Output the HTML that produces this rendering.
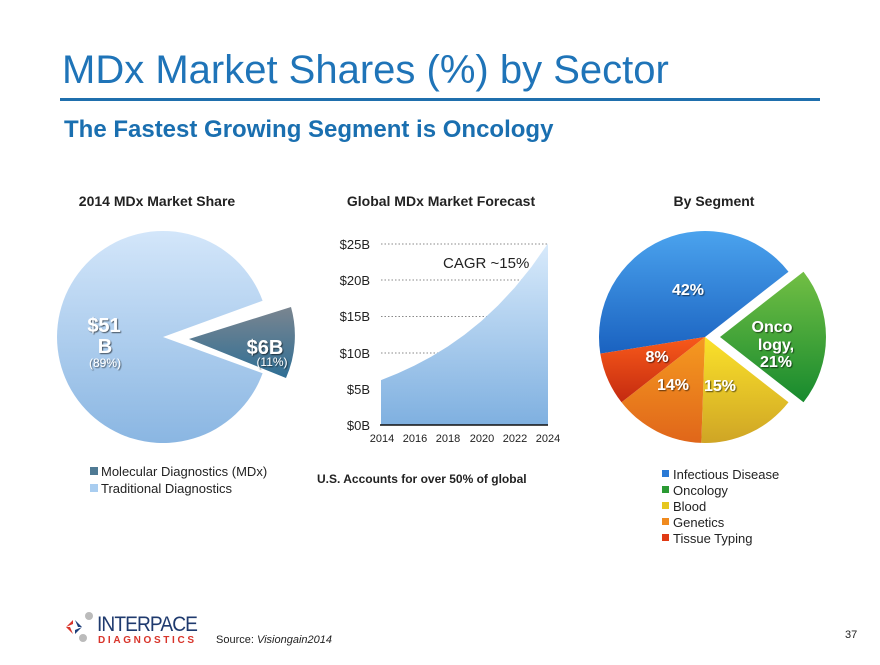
<!DOCTYPE html>
<html><head><meta charset="utf-8"><style>
body{margin:0;background:#fff;}
svg text{font-family:"Liberation Sans",Arial,sans-serif;}
</style></head><body>
<svg width="880" height="660" viewBox="0 0 880 660" xmlns="http://www.w3.org/2000/svg">
<defs>
<linearGradient id="lb" x1="0" y1="0" x2="0" y2="1"><stop offset="0" stop-color="#d3e6fa"/><stop offset="1" stop-color="#8ab6e2"/></linearGradient>
<linearGradient id="db" x1="0" y1="0" x2="0" y2="1"><stop offset="0" stop-color="#7a8590"/><stop offset="1" stop-color="#2f6f95"/></linearGradient>
<linearGradient id="ar" x1="0" y1="0" x2="0" y2="1"><stop offset="0" stop-color="#d8eafb"/><stop offset="1" stop-color="#7fb0e0"/></linearGradient>
<linearGradient id="bl" x1="0" y1="0" x2="0" y2="1"><stop offset="0" stop-color="#4ba3ee"/><stop offset="1" stop-color="#1a62c0"/></linearGradient>
<linearGradient id="gr" x1="0" y1="0" x2="0" y2="1"><stop offset="0" stop-color="#72bf44"/><stop offset="1" stop-color="#178a2e"/></linearGradient>
<linearGradient id="ye" x1="0" y1="0" x2="0" y2="1"><stop offset="0" stop-color="#fbe22a"/><stop offset="1" stop-color="#cfa525"/></linearGradient>
<linearGradient id="or" x1="0" y1="0" x2="0" y2="1"><stop offset="0" stop-color="#f59a20"/><stop offset="1" stop-color="#e0661a"/></linearGradient>
<linearGradient id="rd" x1="0" y1="0" x2="0" y2="1"><stop offset="0" stop-color="#f85a1a"/><stop offset="1" stop-color="#c42a10"/></linearGradient>
<filter id="sh"><feDropShadow dx="1" dy="1" stdDeviation="0.6" flood-color="#000" flood-opacity="0.6"/></filter>
</defs>
<text x="62" y="83" font-size="40" fill="#1f74b8">MDx Market Shares (%) by Sector</text>
<rect x="60" y="98" width="760" height="3" fill="#1f6fad"/>
<text x="64" y="137" font-size="24" font-weight="bold" fill="#1a6fb0">The Fastest Growing Segment is Oncology</text>

<text x="157" y="206" font-size="14" font-weight="bold" text-anchor="middle" fill="#222">2014 MDx Market Share</text>
<text x="441" y="206" font-size="14" font-weight="bold" text-anchor="middle" fill="#222">Global MDx Market Forecast</text>
<text x="714" y="206" font-size="14" font-weight="bold" text-anchor="middle" fill="#222">By Segment</text>

<!-- left pie -->
<path d="M163,337 L262.6,373.3 A106,106 0 1,1 262.6,300.7 Z" fill="url(#lb)"/>
<path d="M189,339 L291,307 A106,106 0 0,1 286,378 Z" fill="url(#db)"/>
<g fill="#fff" font-weight="bold" text-anchor="middle" filter="url(#sh)">
<text x="104" y="332" font-size="20">$51</text>
<text x="105" y="353" font-size="20">B</text>
<text x="105" y="367" font-size="12" font-weight="normal">(89%)</text>
<text x="265" y="354" font-size="20">$6B</text>
<text x="272" y="366" font-size="12" font-weight="normal">(11%)</text>
</g>
<rect x="90" y="467" width="8" height="8" fill="#4f7a94"/>
<text x="101" y="476" font-size="13" fill="#222">Molecular Diagnostics (MDx)</text>
<rect x="90" y="484" width="8" height="8" fill="#a9cdf0"/>
<text x="101" y="493" font-size="13" fill="#222">Traditional Diagnostics</text>

<!-- area chart -->
<g stroke="#888" stroke-width="1" stroke-dasharray="1.5,2">
<line x1="381" y1="244" x2="548" y2="244"/><line x1="381" y1="280" x2="548" y2="280"/>
<line x1="381" y1="316.5" x2="548" y2="316.5"/><line x1="381" y1="353" x2="548" y2="353"/>
<line x1="381" y1="389" x2="548" y2="389"/>
</g>
<path d="M381,425 L381,380.1 L397.7,373.4 L414.4,365.6 L431.1,356.7 L447.8,346.5 L464.5,334.7 L481.2,321.2 L497.9,305.6 L514.6,287.7 L531.3,267.1 L548,243.4 L548,425 Z" fill="url(#ar)"/>
<line x1="380" y1="425" x2="548" y2="425" stroke="#111" stroke-width="1.5"/>
<g font-size="13" fill="#222" text-anchor="end">
<text x="370" y="249">$25B</text><text x="370" y="285">$20B</text><text x="370" y="321">$15B</text>
<text x="370" y="358">$10B</text><text x="370" y="394">$5B</text><text x="370" y="430">$0B</text>
</g>
<g font-size="11" fill="#222" text-anchor="middle">
<text x="382" y="442">2014</text><text x="415" y="442">2016</text><text x="448" y="442">2018</text>
<text x="482" y="442">2020</text><text x="515" y="442">2022</text><text x="548" y="442">2024</text>
</g>
<text x="443" y="268" font-size="15" fill="#222">CAGR ~15%</text>
<text x="317" y="483" font-size="12" font-weight="bold" fill="#222">U.S. Accounts for over 50% of global</text>

<!-- right pie -->
<path d="M705,337 L600.3,353.6 A106,106 0 0,1 788.5,271.7 Z" fill="url(#bl)"/>
<path d="M705,337 L788.5,402.3 A106,106 0 0,1 701.3,442.9 Z" fill="url(#ye)"/>
<path d="M705,337 L701.3,442.9 A106,106 0 0,1 621.5,402.3 Z" fill="url(#or)"/>
<path d="M705,337 L621.5,402.3 A106,106 0 0,1 600.3,353.6 Z" fill="url(#rd)"/>
<path d="M720,337 L803.5,271.7 A106,106 0 0,1 803.5,402.3 Z" fill="url(#gr)"/>
<g fill="#fff" font-weight="bold" font-size="16" text-anchor="middle" filter="url(#sh)">
<text x="688" y="295">42%</text>
<text x="772" y="332">Onco</text><text x="776" y="350">logy,</text><text x="776" y="367">21%</text>
<text x="657" y="362">8%</text>
<text x="673" y="390">14%</text>
<text x="720" y="391">15%</text>
</g>
<g font-size="13" fill="#222">
<rect x="662" y="470" width="7" height="7" fill="#2a7ad6"/><text x="673" y="479">Infectious Disease</text>
<rect x="662" y="486" width="7" height="7" fill="#2a9a33"/><text x="673" y="495">Oncology</text>
<rect x="662" y="502" width="7" height="7" fill="#e6c71f"/><text x="673" y="511">Blood</text>
<rect x="662" y="518" width="7" height="7" fill="#f08a1e"/><text x="673" y="527">Genetics</text>
<rect x="662" y="534" width="7" height="7" fill="#e03a14"/><text x="673" y="543">Tissue Typing</text>
</g>

<!-- logo -->
<g>
<path d="M66,627 L73,620 L73,624 Z M73,634 L66,627 L70,627 Z" fill="#d8342a"/>
<path d="M75,620 L82,627 L78,627 Z M82,627 L75,634 L75,630 Z" fill="#1f3f7a"/>
<circle cx="89" cy="616" r="4" fill="#bbb"/><circle cx="83" cy="638" r="4" fill="#bbb"/>
</g>
<text x="97" y="631" font-size="21" fill="#1f3a6e" letter-spacing="-1" textLength="100" lengthAdjust="spacingAndGlyphs">INTERPACE</text>
<text x="98" y="643" font-size="10" font-weight="bold" fill="#d8342a" textLength="96" lengthAdjust="spacing">DIAGNOSTICS</text>
<text x="216" y="643" font-size="11" fill="#222">Source:  <tspan font-style="italic">Visiongain2014</tspan></text>
<text x="845" y="638" font-size="11" fill="#222">37</text>
</svg>
</body></html>
